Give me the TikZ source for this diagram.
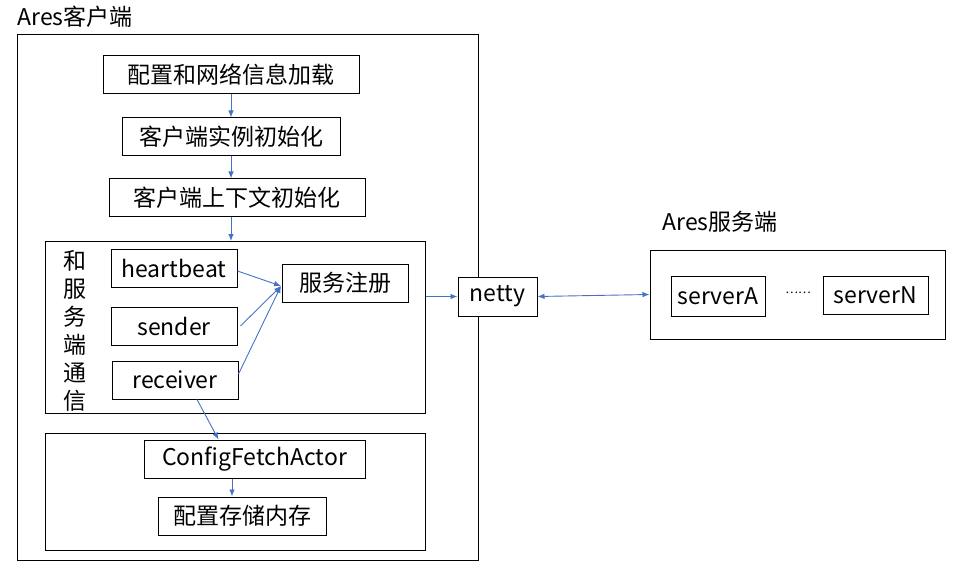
\documentclass[tikz,border=0pt]{standalone}
\usepackage{fontspec}
\setmainfont{Noto Sans CJK SC}
\usetikzlibrary{arrows.meta, positioning}
\definecolor{linkblue}{HTML}{4472C4}
\tikzstyle{block}=[draw,rectangle,line width=1pt,inner sep=0pt,minimum height=38pt,fill=white]
\tikzstyle{frame}=[draw,rectangle,line width=1pt,inner sep=0pt]
\tikzstyle{link}=[draw=linkblue,line width=0.9pt]
\tikzstyle{every node}=[font=\fontsize{23}{27}\selectfont]

\begin{document}
\begin{tikzpicture}[x=1pt,y=-1pt,>={Latex[length=7pt,width=5.5pt]}]
  \useasboundingbox (0,0) rectangle (970,575);
  % client side
  \node[frame, minimum width=461pt, minimum height=525pt] (client) at (247.5,297.5) {};
  \node[anchor=west] (ctitle) at (14,17) {Ares客户端};
  \node[block, minimum width=256pt] (load) at (231,75) {配置和网络信息加载};
  \node[block, minimum width=218pt, below of=load, node distance=62pt] (init) {客户端实例初始化};
  \node[block, minimum width=256pt] (ctx) at (237,198) {客户端上下文初始化};
  \node[frame, minimum width=380pt, minimum height=172pt] (comm) at (235,327.5) {};
  \node[align=center, inner sep=0pt, font=\fontsize{23}{28}\selectfont] (commlbl) at (75,331) {和\\服\\务\\端\\通\\信};
  \node[block, minimum width=126pt] (hb) at (174,268) {heartbeat};
  \node[block, minimum width=126pt] (send) at (174,326) {sender};
  \node[block, minimum width=126pt] (recv) at (175,380) {receiver};
  \node[block, minimum width=126pt] (reg) at (345,283) {服务注册};
  \node[frame, minimum width=380pt, minimum height=117pt] (fetch) at (235,491.5) {};
  \node[block, minimum width=221pt] (cfa) at (254.5,459) {ConfigFetchActor};
  \node[block, minimum width=168pt] (mem) at (242,516) {配置存储内存};
  % server side
  \node[block, minimum width=79pt, minimum height=39pt] (netty) at (497.5,296.5) {netty};
  \node[frame, minimum width=295pt, minimum height=89pt] (srv) at (797.5,294.5) {};
  \node[anchor=west] (stitle) at (659,222) {Ares服务端};
  \node[block, minimum width=94pt, minimum height=40pt] (srvA) at (718,296) {serverA};
  \node[block, minimum width=105pt] (srvN) at (875.5,295) {serverN};
  \node[font=\fontsize{12}{14}\selectfont] (dots) at (798,293) {……};
  % connectors
  \coordinate (regin) at (281,286);
  \coordinate (memtop) at ([xshift=-10pt]mem.north);
  \draw[link,->] (load.south) -- (init.north);
  \draw[link,->] (init.south) -- (init.south |- ctx.north);
  \draw[link,->] (init.south |- ctx.south) -- (init.south |- comm.north);
  \draw[link,->] ([yshift=-3pt]hb.east) -- (regin);
  \draw[link,->] ([xshift=3pt]send.east) -- (regin);
  \draw[link,->] ([yshift=6pt]recv.east) -- (regin);
  \draw[link,->] ([xshift=22pt]recv.south) -- ([xshift=-36pt]cfa.north);
  \draw[link,->] (memtop |- cfa.south) -- (memtop);
  \draw[link,->] (netty.west -| comm.east) -- (netty.west);
  \draw[link,<->] (netty.east) -- (srv.west);
\end{tikzpicture}
\end{document}
